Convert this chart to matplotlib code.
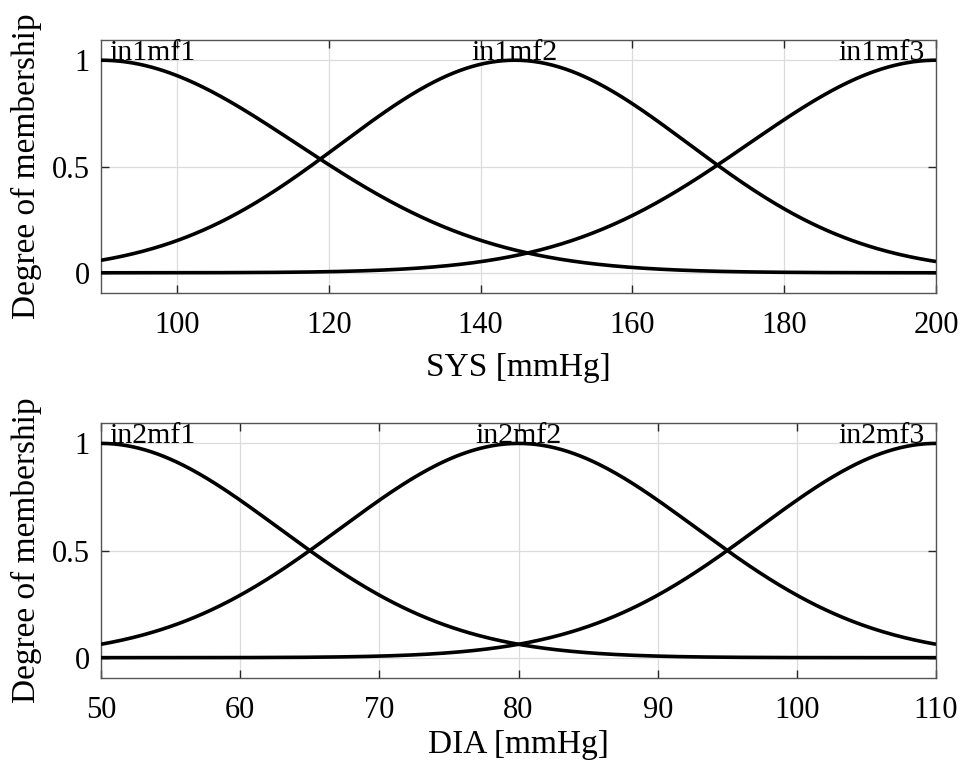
import numpy as np
import matplotlib
matplotlib.use("Agg")
import matplotlib.pyplot as plt
import matplotlib.transforms as mtransforms

plt.rcParams['font.family'] = ['Liberation Serif', 'DejaVu Serif']

# Gaussian membership function parameters (centre, sigma) for each input
sys_range = [90, 200]
sys_centers = [90.0, 144.5, 200.0]
sys_sigmas = [25.8, 22.9, 24.7]
sys_names = ['in1mf1', 'in1mf2', 'in1mf3']
sys_ticks = [100, 120, 140, 160, 180, 200]

dia_range = [50, 110]
dia_centers = [50.0, 80.0, 110.0]
dia_sigmas = [12.74, 12.74, 12.74]
dia_names = ['in2mf1', 'in2mf2', 'in2mf3']
dia_ticks = [50, 60, 70, 80, 90, 100, 110]

y_ticks = [0, 0.5, 1]
y_ticklabels = ['0', '0.5', '1']


def gaussmf(x, c, s):
    return np.exp(-((x - c) ** 2) / (2.0 * s ** 2))


fig = plt.figure(figsize=(9.64, 7.65), dpi=100)
ax_top = fig.add_axes([0.1048, 0.617, 0.8662, 0.3307])
ax_bot = fig.add_axes([0.1048, 0.1137, 0.8662, 0.3333])

panels = [
    (ax_top, sys_range, sys_centers, sys_sigmas, sys_names, sys_ticks, 'SYS [mmHg]', 9),
    (ax_bot, dia_range, dia_centers, dia_sigmas, dia_names, dia_ticks, 'DIA [mmHg]', 3),
]

for ax, xr, centers, sigmas, names, ticks, xlabel, lpad in panels:
    x = np.linspace(xr[0], xr[1], 400)
    for c, s in zip(centers, sigmas):
        ax.plot(x, gaussmf(x, c, s), color='black', lw=2.6, solid_capstyle='butt', zorder=3)

    for i, (c, name) in enumerate(zip(centers, names)):
        if i == 0:
            ha, dx = 'left', 6
        elif i == len(centers) - 1:
            ha, dx = 'right', -8
        else:
            ha, dx = 'center', 0
        off = mtransforms.offset_copy(ax.transData, fig=fig, x=dx, y=0, units='points')
        ax.text(c, 1.0, name, ha=ha, va='baseline', fontsize=21.5, transform=off, zorder=4)

    ax.set_xlim(xr)
    ax.set_ylim(-0.095, 1.095)
    ax.set_xticks(ticks)
    ax.set_yticks(y_ticks)
    ax.set_yticklabels(y_ticklabels)
    ax.grid(True, color='#dcdcdc', lw=0.9)
    ax.set_axisbelow(True)
    ax.tick_params(direction='in', length=6, width=1.0, color='#262626',
                   top=True, right=True, labelsize=22)
    ax.tick_params(axis='x', pad=13)
    ax.tick_params(axis='y', pad=8)
    for sp in ax.spines.values():
        sp.set_color('#555555')
        sp.set_linewidth(1.0)
    ax.set_xlabel(xlabel, fontsize=24, labelpad=lpad)
    ax.set_ylabel('Degree of membership', fontsize=24)
    ax.yaxis.set_label_coords(-0.071, 0.5)

fig.savefig('out.png', dpi=100, facecolor='white')
